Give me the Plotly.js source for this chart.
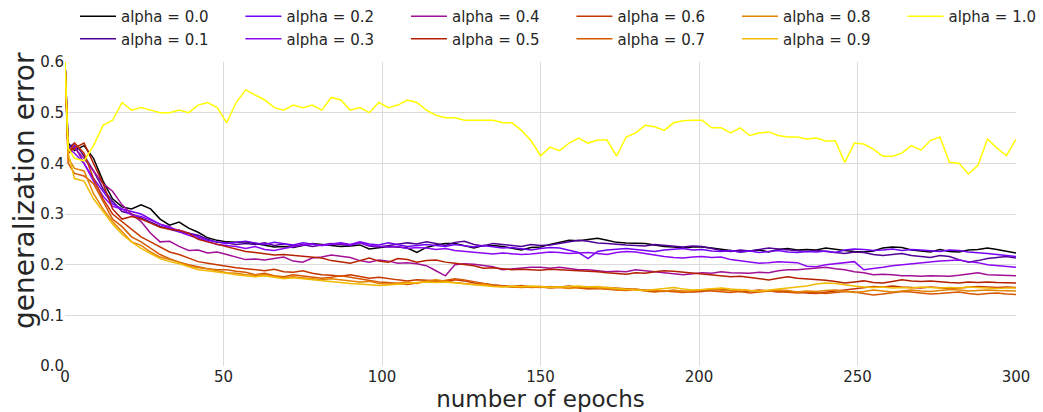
<!DOCTYPE html>
<html>
<head>
<meta charset="utf-8">
<script src="https://cdn.plot.ly/plotly-3.0.1.min.js"></script>
<style>html,body{margin:0;padding:0;background:#fff;}#chart{width:1043px;height:412px;}</style>
</head>
<body>
<div id="chart"></div>
<script>
const epochs = [0,1,3,6,9,12,15,18,21,24,
  27,30,33,36,39,42,45,48,51,54,
  57,60,63,66,69,72,75,78,81,84,
  87,90,93,96,99,102,105,108,111,114,
  117,120,123,126,129,132,135,138,141,144,
  147,150,153,156,159,162,165,168,171,174,
  177,180,183,186,189,192,195,198,201,204,
  207,210,213,216,219,222,225,228,231,234,
  237,240,243,246,249,252,255,258,261,264,
  267,270,273,276,279,282,285,288,291,294,
  297,300];

const alphaLabels = ["alpha = 0.0","alpha = 0.1","alpha = 0.2","alpha = 0.3","alpha = 0.4","alpha = 0.5","alpha = 0.6","alpha = 0.7","alpha = 0.8","alpha = 0.9","alpha = 1.0"];

const err_a00 = [0.60,0.44,0.425,0.435,0.41,0.365,0.33,0.314,0.31,0.318,
  0.31,0.29,0.278,0.284,0.272,0.264,0.253,0.248,0.245,0.244,
  0.245,0.242,0.238,0.235,0.236,0.234,0.238,0.242,0.24,0.238,
  0.236,0.237,0.239,0.231,0.233,0.236,0.235,0.233,0.224,0.234,
  0.239,0.242,0.242,0.237,0.233,0.238,0.238,0.236,0.233,0.229,
  0.234,0.235,0.24,0.244,0.248,0.247,0.25,0.252,0.248,0.244,
  0.243,0.243,0.242,0.239,0.236,0.235,0.233,0.235,0.235,0.233,
  0.231,0.228,0.225,0.227,0.229,0.225,0.23,0.232,0.229,0.23,
  0.229,0.233,0.23,0.228,0.226,0.225,0.227,0.233,0.235,0.234,
  0.229,0.227,0.225,0.23,0.226,0.225,0.229,0.23,0.233,0.23,
  0.227,0.223];

const err_a01 = [0.60,0.43,0.44,0.415,0.385,0.35,0.325,0.305,0.30,0.292,
  0.285,0.276,0.27,0.265,0.262,0.258,0.25,0.244,0.243,0.24,
  0.242,0.24,0.243,0.238,0.241,0.237,0.24,0.236,0.239,0.242,
  0.24,0.238,0.243,0.237,0.235,0.238,0.24,0.243,0.241,0.245,
  0.242,0.238,0.244,0.246,0.24,0.237,0.242,0.24,0.238,0.236,
  0.24,0.238,0.239,0.242,0.245,0.248,0.246,0.243,0.242,0.24,
  0.239,0.238,0.237,0.24,0.238,0.236,0.235,0.237,0.236,0.232,
  0.228,0.226,0.229,0.227,0.23,0.233,0.231,0.229,0.227,0.226,
  0.228,0.226,0.224,0.222,0.225,0.224,0.22,0.218,0.22,0.222,
  0.218,0.216,0.214,0.218,0.216,0.21,0.205,0.208,0.212,0.214,
  0.216,0.213];

const err_a02 = [0.60,0.42,0.435,0.40,0.37,0.345,0.32,0.31,0.305,0.30,
  0.29,0.28,0.272,0.268,0.262,0.255,0.248,0.245,0.242,0.244,
  0.246,0.243,0.24,0.244,0.242,0.239,0.243,0.24,0.238,0.241,
  0.243,0.24,0.245,0.241,0.239,0.243,0.24,0.236,0.238,0.24,
  0.238,0.236,0.24,0.237,0.235,0.238,0.236,0.233,0.234,0.232,
  0.229,0.232,0.234,0.233,0.229,0.224,0.212,0.226,0.229,0.231,
  0.232,0.23,0.228,0.226,0.229,0.23,0.232,0.229,0.23,0.227,
  0.226,0.228,0.225,0.227,0.224,0.226,0.228,0.225,0.224,0.226,
  0.225,0.227,0.224,0.229,0.231,0.23,0.228,0.229,0.231,0.228,
  0.23,0.229,0.227,0.226,0.229,0.228,0.225,0.224,0.222,0.22,
  0.218,0.216];

const err_a03 = [0.60,0.43,0.42,0.40,0.365,0.335,0.315,0.31,0.298,0.295,
  0.288,0.28,0.275,0.265,0.258,0.252,0.246,0.24,0.238,0.236,
  0.232,0.236,0.23,0.228,0.232,0.236,0.239,0.241,0.238,0.24,
  0.242,0.239,0.243,0.238,0.236,0.235,0.236,0.232,0.234,0.233,
  0.23,0.232,0.228,0.226,0.224,0.222,0.221,0.223,0.222,0.22,
  0.221,0.223,0.225,0.224,0.222,0.223,0.224,0.222,0.22,0.224,
  0.226,0.225,0.222,0.218,0.216,0.214,0.213,0.215,0.216,0.214,
  0.215,0.21,0.208,0.206,0.203,0.204,0.206,0.205,0.204,0.197,
  0.196,0.20,0.202,0.204,0.206,0.19,0.192,0.195,0.198,0.20,
  0.202,0.204,0.205,0.207,0.208,0.209,0.206,0.204,0.20,0.198,
  0.197,0.195];

const err_a04 = [0.60,0.43,0.43,0.41,0.385,0.36,0.345,0.318,0.30,0.285,
  0.262,0.245,0.246,0.236,0.228,0.229,0.223,0.225,0.22,0.215,
  0.21,0.211,0.209,0.212,0.215,0.207,0.205,0.213,0.215,0.219,
  0.217,0.214,0.208,0.205,0.209,0.207,0.203,0.204,0.202,0.198,
  0.188,0.178,0.20,0.202,0.201,0.199,0.196,0.19,0.192,0.193,
  0.195,0.195,0.193,0.195,0.192,0.19,0.19,0.188,0.186,0.187,
  0.186,0.19,0.188,0.186,0.185,0.183,0.18,0.182,0.184,0.183,
  0.186,0.184,0.184,0.183,0.185,0.184,0.188,0.19,0.19,0.192,
  0.193,0.195,0.192,0.19,0.186,0.184,0.18,0.181,0.18,0.178,
  0.178,0.177,0.178,0.178,0.177,0.179,0.181,0.184,0.18,0.179,
  0.178,0.178];

const err_a05 = [0.60,0.42,0.43,0.44,0.40,0.36,0.31,0.29,0.295,0.29,
  0.282,0.274,0.27,0.268,0.262,0.25,0.245,0.24,0.235,0.23,
  0.226,0.224,0.222,0.219,0.22,0.218,0.216,0.215,0.213,0.208,
  0.205,0.203,0.208,0.213,0.207,0.205,0.212,0.21,0.205,0.208,
  0.209,0.205,0.203,0.20,0.198,0.193,0.194,0.192,0.19,0.191,
  0.19,0.189,0.191,0.19,0.19,0.188,0.187,0.186,0.184,0.183,
  0.181,0.184,0.183,0.186,0.188,0.187,0.185,0.184,0.182,0.18,
  0.178,0.176,0.177,0.175,0.172,0.17,0.173,0.176,0.173,0.172,
  0.17,0.169,0.167,0.164,0.166,0.168,0.165,0.164,0.167,0.17,
  0.168,0.167,0.168,0.166,0.165,0.164,0.166,0.165,0.166,0.165,
  0.164,0.164];

const err_a06 = [0.60,0.42,0.44,0.42,0.37,0.33,0.30,0.285,0.27,0.255,
  0.245,0.235,0.225,0.22,0.213,0.206,0.203,0.20,0.196,0.194,
  0.192,0.19,0.188,0.191,0.186,0.185,0.188,0.183,0.18,0.179,
  0.177,0.18,0.176,0.173,0.175,0.172,0.17,0.168,0.17,0.169,
  0.168,0.167,0.17,0.168,0.164,0.163,0.16,0.158,0.157,0.159,
  0.156,0.157,0.155,0.156,0.158,0.155,0.154,0.153,0.155,0.154,
  0.152,0.151,0.15,0.148,0.147,0.149,0.148,0.146,0.147,0.15,
  0.151,0.149,0.147,0.148,0.15,0.148,0.146,0.147,0.145,0.144,
  0.143,0.146,0.148,0.15,0.152,0.155,0.157,0.156,0.158,0.156,
  0.155,0.154,0.156,0.155,0.153,0.154,0.155,0.157,0.156,0.155,
  0.156,0.155];

const err_a07 = [0.60,0.40,0.38,0.375,0.36,0.325,0.29,0.275,0.255,0.245,
  0.232,0.22,0.212,0.205,0.20,0.196,0.192,0.19,0.19,0.187,
  0.185,0.18,0.183,0.178,0.176,0.18,0.178,0.176,0.173,0.175,
  0.178,0.175,0.172,0.168,0.166,0.165,0.163,0.161,0.164,0.167,
  0.166,0.169,0.172,0.17,0.166,0.163,0.16,0.158,0.156,0.157,
  0.155,0.156,0.154,0.155,0.157,0.154,0.152,0.153,0.151,0.15,
  0.149,0.151,0.148,0.146,0.148,0.147,0.145,0.147,0.149,0.148,
  0.146,0.145,0.147,0.144,0.146,0.148,0.147,0.145,0.144,0.146,
  0.145,0.143,0.145,0.147,0.146,0.143,0.14,0.142,0.145,0.147,
  0.146,0.144,0.142,0.143,0.145,0.146,0.143,0.141,0.143,0.144,
  0.142,0.141];

const err_a08 = [0.60,0.41,0.39,0.385,0.34,0.31,0.285,0.265,0.245,0.238,
  0.225,0.215,0.21,0.205,0.198,0.194,0.192,0.188,0.184,0.183,
  0.18,0.179,0.18,0.177,0.174,0.176,0.174,0.172,0.17,0.172,
  0.17,0.168,0.166,0.167,0.163,0.162,0.164,0.166,0.163,0.168,
  0.17,0.167,0.165,0.163,0.161,0.162,0.158,0.157,0.156,0.155,
  0.156,0.155,0.157,0.155,0.153,0.155,0.156,0.154,0.152,0.151,
  0.15,0.152,0.149,0.15,0.148,0.15,0.147,0.148,0.15,0.152,
  0.15,0.148,0.151,0.149,0.147,0.148,0.15,0.149,0.146,0.148,
  0.147,0.149,0.15,0.148,0.145,0.147,0.15,0.148,0.146,0.148,
  0.15,0.148,0.147,0.149,0.151,0.15,0.148,0.149,0.15,0.149,
  0.148,0.148];

const err_a09 = [0.60,0.42,0.37,0.365,0.33,0.305,0.28,0.26,0.245,0.232,
  0.222,0.212,0.206,0.202,0.196,0.19,0.188,0.186,0.183,0.18,
  0.178,0.176,0.178,0.175,0.172,0.174,0.172,0.17,0.168,0.167,
  0.165,0.163,0.162,0.16,0.159,0.16,0.162,0.164,0.165,0.166,
  0.165,0.166,0.164,0.162,0.16,0.158,0.157,0.156,0.158,0.157,
  0.158,0.157,0.155,0.156,0.157,0.158,0.156,0.157,0.155,0.153,
  0.152,0.15,0.149,0.151,0.153,0.155,0.152,0.15,0.151,0.153,
  0.154,0.152,0.15,0.149,0.148,0.15,0.152,0.153,0.155,0.158,
  0.162,0.164,0.163,0.16,0.158,0.156,0.155,0.156,0.154,0.155,
  0.154,0.156,0.155,0.154,0.155,0.154,0.156,0.155,0.154,0.153,
  0.154,0.154];

const err_a10 = [0.60,0.43,0.41,0.405,0.435,0.475,0.485,0.52,0.505,0.51,
  0.505,0.50,0.50,0.505,0.50,0.515,0.52,0.51,0.48,0.52,
  0.545,0.535,0.525,0.51,0.505,0.515,0.51,0.515,0.505,0.53,
  0.525,0.505,0.51,0.50,0.52,0.51,0.515,0.525,0.52,0.505,
  0.495,0.49,0.49,0.485,0.485,0.485,0.485,0.48,0.48,0.465,
  0.445,0.415,0.432,0.425,0.44,0.45,0.44,0.446,0.446,0.414,
  0.452,0.46,0.475,0.472,0.465,0.48,0.484,0.485,0.485,0.47,
  0.47,0.46,0.47,0.455,0.46,0.462,0.455,0.452,0.452,0.448,
  0.45,0.444,0.444,0.402,0.44,0.438,0.428,0.414,0.414,0.42,
  0.435,0.426,0.445,0.452,0.402,0.40,0.379,0.396,0.448,0.43,
  0.415,0.448];

const seriesValues = [err_a00,err_a01,err_a02,err_a03,err_a04,err_a05,err_a06,err_a07,err_a08,err_a09,err_a10];
const seriesColors = ["#000000","#510096","#7202f3","#8c07f3","#a11096","#b42000","#c63700","#d55700","#e48300","#f2ba00","#ffff00"];
// legend is filled column by column (0.0/0.1, 0.2/0.3, ...)
const legendRanks = [1,7,2,8,3,9,4,10,5,11,6];

const xTicks = [0,50,100,150,200,250,300];
const yTicks = [0.0,0.1,0.2,0.3,0.4,0.5,0.6];

const traces = seriesValues.map((vals,i) => ({
  type: 'scatter', mode: 'lines',
  x: epochs, y: vals,
  name: alphaLabels[i],
  legendrank: legendRanks[i],
  line: {color: seriesColors[i], width: 1.5}
}));

const FONT = 'DejaVu Sans, sans-serif';
const layout = {
  width: 1043, height: 412,
  margin: {l: 65, r: 27, t: 62, b: 46, pad: 0, autoexpand: false},
  paper_bgcolor: '#ffffff', plot_bgcolor: '#ffffff',
  font: {family: FONT, color: '#262626', size: 15},
  showlegend: true,
  legend: {
    orientation: 'h', xref: 'paper', yref: 'paper',
    x: -0.0011, y: 1.204, xanchor: 'left', yanchor: 'top',
    indentation: 11,
    entrywidth: 103.5, entrywidthmode: 'pixels', itemwidth: 36,
    font: {family: FONT, size: 15, color: '#262626'},
    bgcolor: 'rgba(0,0,0,0)', borderwidth: 0, traceorder: 'normal'
  },
  xaxis: {
    range: [0, 300], tickvals: xTicks, ticktext: xTicks.map(String),
    showgrid: true, gridcolor: '#dcdcdc', gridwidth: 1,
    zeroline: false, showline: false, ticks: '',
    tickfont: {family: FONT, size: 15, color: '#262626'},
    title: {text: 'number of epochs', font: {family: FONT, size: 23, color: '#262626'}, standoff: 3}
  },
  yaxis: {
    range: [0, 0.6], tickvals: yTicks, tickformat: '.1f',
    showgrid: true, gridcolor: '#dcdcdc', gridwidth: 1,
    zeroline: false, showline: false, ticks: '',
    tickfont: {family: FONT, size: 15, color: '#262626'}
  },
  annotations: [{
    text: 'generalization error', textangle: -90, showarrow: false,
    xref: 'paper', yref: 'paper', x: -0.042, y: 0.576,
    xanchor: 'center', yanchor: 'middle',
    font: {family: FONT, size: 28, color: '#262626'}
  }]
};

Plotly.newPlot('chart', traces, layout, {displayModeBar: false, staticPlot: true});
</script>
</body>
</html>
